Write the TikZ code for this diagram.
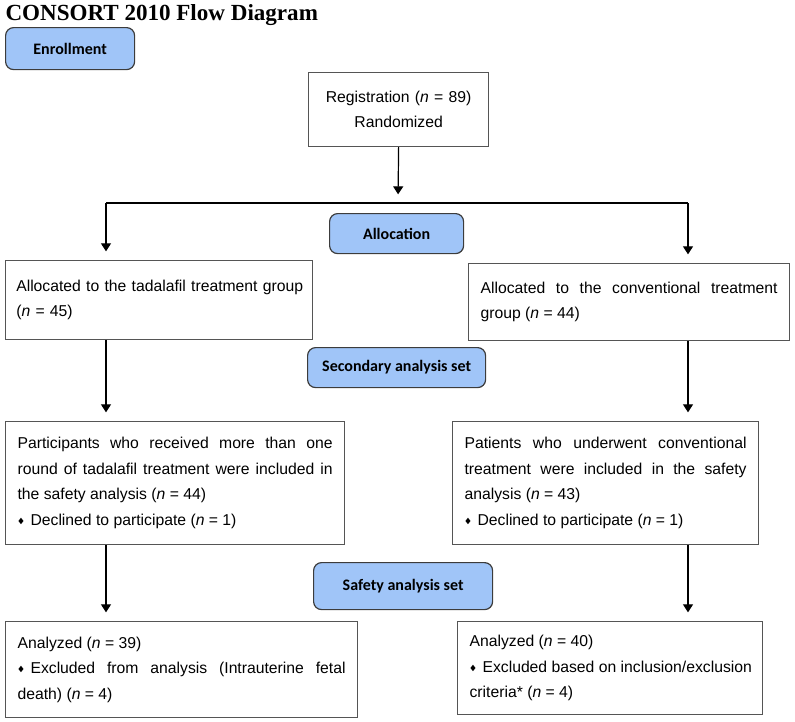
\documentclass[tikz,border=0pt]{standalone}
\usepackage{fontspec}
\usepackage{amssymb}
\setmainfont{Liberation Sans}
\newfontfamily\titlefont{Liberation Serif}
\newfontfamily\stagefont{Carlito}
\usetikzlibrary{arrows.meta}
\tolerance=10000
\hbadness=10000

\definecolor{stageblue}{RGB}{160,197,248}
\definecolor{stageline}{RGB}{60,60,60}
\definecolor{boxgray}{RGB}{85,85,85}

\newcommand{\bul}{\raisebox{0.25ex}{\fontsize{5.5}{5.5}\selectfont$\blacklozenge$}\hspace{4.5pt}}
\newcommand{\nn}{\textit{n}}

\tikzset{every picture/.style={line width=0.75pt}}
\tikzset{
  stage/.style={draw=stageline, fill=stageblue, rounded corners=6pt, anchor=north west, inner sep=0pt, line width=0.9pt, font={\stagefont\bfseries\fontsize{12}{14}\selectfont}},
  infobox/.style={draw=boxgray, anchor=north west, inner xsep=9pt, inner ysep=0pt, align=justify, line width=0.9pt, font={\fontsize{11.8}{19.1}\selectfont}},
  flow/.style={-{Triangle[width=7.5pt,length=6pt]}, line width=0.9pt, shorten >=6.5pt},
}

\begin{document}
\begin{tikzpicture}[x=0.75pt,y=0.75pt,yscale=-1,xscale=1]
\useasboundingbox (0,0) rectangle (795,721);

% Text Node
\node [anchor=base west, inner sep=0pt, font={\titlefont\bfseries\fontsize{17.3}{20}\selectfont}] (title) at (5,21) {CONSORT 2010 Flow Diagram};

%Rounded Rect
\node [stage, minimum width=96.75pt, minimum height=31.5pt] (enroll) at (5,27) {Enrollment};
%Shape: Rectangle
\node [infobox, align=center, text width=117pt, minimum height=55.5pt] (reg) at (308,72) {Registration (\nn{} = 89)\\Randomized};
%Rounded Rect
\node [stage, minimum width=100.5pt, minimum height=30pt] (alloc) at (329,213) {Allocation};

%Shape: Rectangle
\node [infobox, align=left, inner xsep=8pt, text width=214.25pt, minimum height=59.25pt] (allocL) at (5,260) {\mbox{Allocated to the tadalafil treatment group}\\(\nn{} = 45)};
%Shape: Rectangle
\node [infobox, text width=222.75pt, minimum height=57.75pt] (allocR) at (468,263) {Allocated to the conventional treatment\linebreak group (\nn{} = 44)};
%Rounded Rect
\node [stage, minimum width=133.5pt, minimum height=30pt] (second) at (307,347) {Secondary analysis set};

%Shape: Rectangle
\node [infobox, text width=236.25pt, minimum height=92.25pt] (partL) at (5,421) {Participants who received more than one\linebreak round of tadalafil treatment were included in\linebreak the safety analysis (\nn{} = 44)\\\bul Declined to participate (\nn{} = 1)};
%Shape: Rectangle
\node [infobox, text width=211.5pt, minimum height=92.25pt] (partR) at (452,421) {Patients who underwent conventional\linebreak treatment were included in the safety\linebreak analysis (\nn{} = 43)\\\bul Declined to participate (\nn{} = 1)};
%Rounded Rect
\node [stage, minimum width=134.25pt, minimum height=35.25pt] (safety) at (313,562) {Safety analysis set};

%Shape: Rectangle
\node [infobox, text width=246pt, minimum height=72pt] (anaL) at (5,621) {Analyzed (\nn{} = 39)\\\bul Excluded from analysis (Intrauterine fetal\linebreak death) (\nn{} = 4)};
%Shape: Rectangle
\node [infobox, text width=210.75pt, minimum height=69.75pt] (anaR) at (457,621) {Analyzed (\nn{} = 40)\\\mbox{\bul Excluded based on inclusion/exclusion}\\criteria* (\nn{} = 4)};

% Split points
\coordinate (split) at (398,203);
\coordinate (splitL) at (106,203);
\coordinate (splitR) at (688,203);
\coordinate (colL) at (106,0);
\coordinate (colR) at (688,0);

%Straight Lines
\draw [flow] (reg.south) -- (split);
\draw [line width=0.9pt] (splitL) -- (splitR);
\draw [flow] (splitL) -- (splitL |- allocL.north);
\draw [flow] (splitR) -- (splitR |- allocR.north);
\draw [flow] (colL |- allocL.south) -- (colL |- partL.north);
\draw [flow] (colR |- allocR.south) -- (colR |- partR.north);
\draw [flow] (colL |- partL.south) -- (colL |- anaL.north);
\draw [flow] (colR |- partR.south) -- (colR |- anaR.north);

\end{tikzpicture}
\end{document}
